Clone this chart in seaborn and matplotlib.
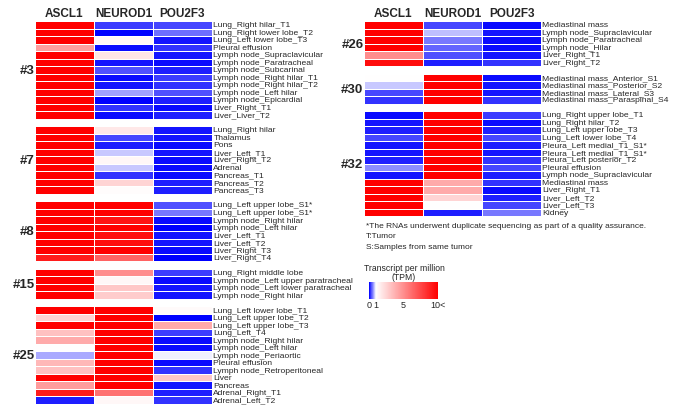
import numpy as np
import pandas as pd
import matplotlib
matplotlib.use('Agg')
import matplotlib.pyplot as plt
import seaborn as sns
from matplotlib.colors import LinearSegmentedColormap

genes = ['ASCL1', 'NEUROD1', 'POU2F3']

# TPM values (10 = 10 or more)
g3_names = ['Lung_Right hilar_T1', 'Lung_Right lower lobe_T2', 'Lung_Left lower lobe_T3',
            'Pleural effusion', 'Lymph node_Supraclavicular', 'Lymph node_Paratracheal',
            'Lymph node_Subcarinal', 'Lymph node_Right hilar_T1', 'Lymph node_Right hilar_T2',
            'Lymph node_Left hilar', 'Lymph node_Epicardial', 'Liver_Right_T1', 'Liver_Liver_T2']
g3_ascl1 = [10, 10, 10, 4.4, 10, 10, 10, 10, 10, 10, 10, 10, 10]
g3_neurod1 = [0.25, 0.02, 1.3, 0.05, 1.9, 0.1, 0.35, 0.05, 0.1, 0.65, 0.02, 0.2, 0.05]
g3_pou2f3 = [0.3, 0.45, 0.1, 0.2, 0.1, 0.05, 0.15, 0.25, 0.2, 0.35, 0.15, 0.05, 0.15]

g7_names = ['Lung_Right hilar', 'Thalamus', 'Pons', 'Liver_Left_T1', 'Liver_Right_T2',
            'Adrenal', 'Pancreas_T1', 'Pancreas_T2', 'Pancreas_T3']
g7_ascl1 = [10, 10, 10, 10, 10, 10, 10, 10, 10]
g7_neurod1 = [1.8, 0.3, 0.15, 0.8, 1.3, 0.8, 0.2, 2.5, 1.1]
g7_pou2f3 = [0.1, 0.1, 0.05, 0.1, 0.05, 0.05, 0.05, 0.15, 0.15]

g8_names = ['Lung_Left upper lobe_S1*', 'Lung_Left upper lobe_S1*', 'Lymph node_Right hilar',
            'Lymph node_Left hilar', 'Liver_Left_T1', 'Liver_Left_T2', 'Liver_Right_T3',
            'Liver_Right_T4']
g8_ascl1 = [10, 10, 10, 10, 10, 10, 10, 9]
g8_neurod1 = [10, 10, 9.3, 10, 9.5, 9.5, 10, 6.5]
g8_pou2f3 = [0.35, 0.5, 0.05, 0.02, 0.1, 0.1, 0.05, 0.02]

g15_names = ['Lung_Right middle lobe', 'Lymph node_Left upper paratracheal',
             'Lymph node_Left lower paratracheal', 'Lymph node_Right hilar']
g15_ascl1 = [10, 10, 10, 10]
g15_neurod1 = [5, 1.3, 3, 2.8]
g15_pou2f3 = [0.25, 0.05, 0.1, 0.1]

g25_names = ['Lung_Left lower lobe_T1', 'Lung_Left upper lobe_T2', 'Lung_Left upper lobe_T3',
             'Lung_Left_T4', 'Lymph node_Right hilar', 'Lymph node_Left hilar',
             'Lymph node_Periaortic', 'Pleural effusion', 'Lymph node_Retroperitoneal',
             'Liver', 'Pancreas', 'Adrenal_Right_T1', 'Adrenal_Left_T2']
g25_ascl1 = [10, 2.5, 10, 3.2, 4, 1.05, 0.7, 3.5, 3.2, 10, 4.5, 9, 0.15]
g25_neurod1 = [10, 10, 10, 10, 10, 10, 10, 10, 10, 10, 10, 6, 1.3]
g25_pou2f3 = [1.2, 0.02, 4, 0.25, 0.05, 0.05, 0.95, 0.05, 0.2, 3, 0.1, 0.15, 0.2]

g26_names = ['Mediastinal mass', 'Lymph node_Supraclavicular', 'Lymph node_Paratracheal',
             'Lymph node_Hilar', 'Liver_Right_T1', 'Liver_Right_T2']
g26_ascl1 = [10, 10, 10, 10, 5, 9.5]
g26_neurod1 = [0.3, 0.75, 0.5, 0.4, 0.35, 0.15]
g26_pou2f3 = [0.05, 0.1, 0.05, 0.05, 0.1, 0.2]

g30_names = ['Mediastinal mass_Anterior_S1', 'Mediastinal mass_Posterior_S2',
             'Mediastinal mass_Lateral_S3', 'Mediastinal mass_Paraspinal_S4']
g30_ascl1 = [1.05, 0.8, 0.3, 0.2]
g30_neurod1 = [10, 10, 10, 10]
g30_pou2f3 = [0.05, 0.1, 0.1, 0.2]

g32_names = ['Lung_Right upper lobe_T1', 'Lung_Right hilar_T2', 'Lung_Left upper lobe_T3',
             'Lung_Left lower lobe_T4', 'Pleura_Left medial_T1_S1*', 'Pleura_Left medial_T1_S1*',
             'Pleura_Left posterior_T2', 'Pleural effusion', 'Lymph node_Supraclavicular',
             'Mediastinal mass', 'Liver_Right_T1', 'Liver_Left_T2', 'Liver_Left_T3', 'Kidney']
g32_ascl1 = [0.05, 0.1, 0.15, 0.3, 0.1, 0.1, 0.15, 0.55, 0.1, 10, 10, 10, 10, 10]
g32_neurod1 = [10, 10, 10, 10, 10, 10, 10, 10, 10, 4, 4, 2.5, 1.05, 0.15]
g32_pou2f3 = [0.25, 0.05, 0.15, 0.3, 0.15, 0.1, 0.2, 0.3, 0.15, 0.2, 0.05, 0.15, 0.3, 0.5]

left_groups = [('#3', g3_names, g3_ascl1, g3_neurod1, g3_pou2f3),
               ('#7', g7_names, g7_ascl1, g7_neurod1, g7_pou2f3),
               ('#8', g8_names, g8_ascl1, g8_neurod1, g8_pou2f3),
               ('#15', g15_names, g15_ascl1, g15_neurod1, g15_pou2f3),
               ('#25', g25_names, g25_ascl1, g25_neurod1, g25_pou2f3)]
right_groups = [('#26', g26_names, g26_ascl1, g26_neurod1, g26_pou2f3),
                ('#30', g30_names, g30_ascl1, g30_neurod1, g30_pou2f3),
                ('#32', g32_names, g32_ascl1, g32_neurod1, g32_pou2f3)]


def build(groups):
    rows, labels, centers = [], [], []
    for i, (tag, names, a, n, p) in enumerate(groups):
        if i > 0:
            rows.append([np.nan] * 3)
            labels.append('')
        start = len(rows)
        for k in range(len(names)):
            rows.append([a[k], n[k], p[k]])
            labels.append(names[k])
        centers.append((tag, start + len(names) / 2))
    return pd.DataFrame(rows, columns=genes), labels, centers


sns.set_style('white')
plt.rcParams['font.family'] = ['Liberation Sans', 'DejaVu Sans']

cmap = LinearSegmentedColormap.from_list(
    'tpm', [(0, '#0000ff'), (0.1, '#ffffff'), (1, '#ff0000')])

W, H = 680, 410
fig = plt.figure(figsize=(6.8, 4.1), dpi=100)
row_h = 383 / 51


def px_axes(x0, y0, x1, y1):
    return fig.add_axes([x0 / W, 1 - y1 / H, (x1 - x0) / W, (y1 - y0) / H])


def draw(ax, groups):
    df, labels, centers = build(groups)
    sns.heatmap(df, ax=ax, cmap=cmap, vmin=0, vmax=10, cbar=False,
                linewidths=0.6, linecolor='white', yticklabels=labels)
    ax.xaxis.tick_top()
    ax.yaxis.tick_right()
    ax.tick_params(axis='both', length=0)
    ax.tick_params(axis='x', pad=1.5)
    ax.tick_params(axis='y', pad=1)
    for t in ax.get_xticklabels():
        t.set_fontweight('bold')
        t.set_fontsize(8.5)
    for t in ax.get_yticklabels():
        t.set_rotation(0)
        t.set_fontsize(6.1)
        t.set_va('center')
    for tag, c in centers:
        ax.text(-0.01, c, tag, ha='right', va='center', fontsize=9.5, fontweight='bold')
    return ax


ax1 = px_axes(35, 22, 212, 22 + 51 * row_h)
draw(ax1, left_groups)
ax2 = px_axes(364, 22, 541, 22 + 26 * row_h)
draw(ax2, right_groups)

fig.text(366 / W, 1 - 226 / H, '*The RNAs underwent duplicate sequencing as part of a quality assurance.',
         fontsize=6, va='center')
fig.text(366 / W, 1 - 237 / H, 'T:Tumor', fontsize=6, va='center')
fig.text(366 / W, 1 - 248 / H, 'S:Samples from same tumor', fontsize=6, va='center')
fig.text(404 / W, 1 - 273 / H, 'Transcript per million\n(TPM)', fontsize=6.2, ha='center',
         va='center', linespacing=1.1)

cax = px_axes(369, 283, 438, 300)
cb = fig.colorbar(ax1.collections[0], cax=cax, orientation='horizontal')
cb.set_ticks([0, 1, 5, 10])
cb.set_ticklabels(['0', '1', '5', '10<'])
cb.outline.set_visible(False)
cax.tick_params(length=0, labelsize=6.5, pad=1)

fig.savefig('out.png', dpi=100)
